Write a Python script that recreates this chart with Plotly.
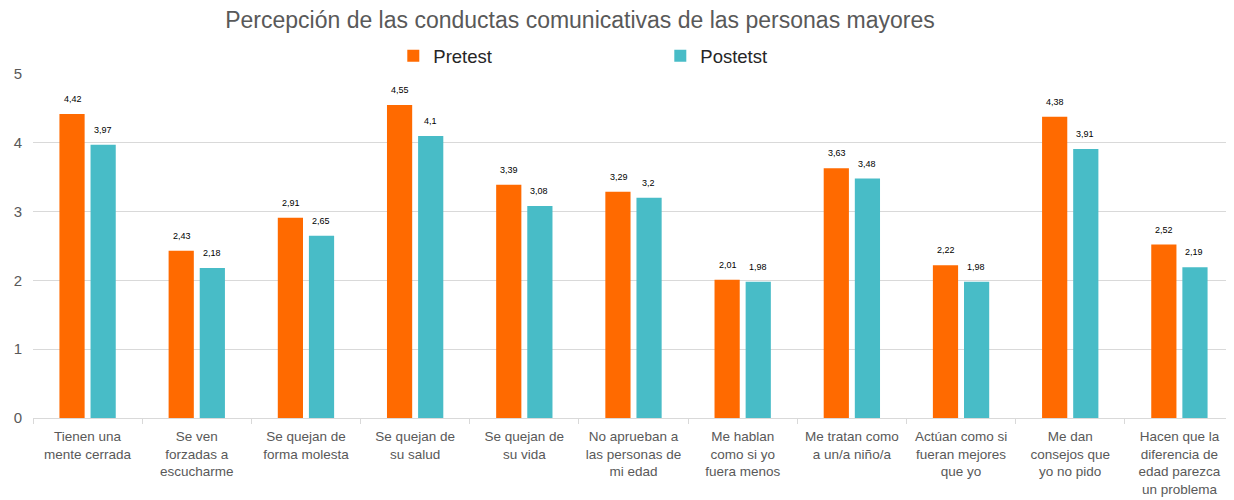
import plotly.graph_objects as go

categories = [
    "Tienen una<br>mente cerrada",
    "Se ven<br>forzadas a<br>escucharme",
    "Se quejan de<br>forma molesta",
    "Se quejan de<br>su salud",
    "Se quejan de<br>su vida",
    "No aprueban a<br>las personas de<br>mi edad",
    "Me hablan<br>como si yo<br>fuera menos",
    "Me tratan como<br>a un/a niño/a",
    "Actúan como si<br>fueran mejores<br>que yo",
    "Me dan<br>consejos que<br>yo no pido",
    "Hacen que la<br>diferencia de<br>edad parezca<br>un problema",
]
pretest = [4.42, 2.43, 2.91, 4.55, 3.39, 3.29, 2.01, 3.63, 2.22, 4.38, 2.52]
postest = [3.97, 2.18, 2.65, 4.1, 3.08, 3.2, 1.98, 3.48, 1.98, 3.91, 2.19]
series_names = ["Pretest", "Postetst"]
colors = ["#FF6A00", "#48BCC7"]

def fmt(v):
    return f"{v:g}".replace(".", ",")

fig = go.Figure()
for name, vals, col in zip(series_names, [pretest, postest], colors):
    fig.add_trace(go.Bar(name=name, x=categories, y=vals, marker_color=col,
                         marker_line_width=0))

annotations = []
for vals, shift in [(pretest, -15), (postest, 15)]:
    for c, v in zip(categories, vals):
        annotations.append(dict(x=c, y=v, text=fmt(v), showarrow=False,
                                xshift=shift, yshift=15, xref="x", yref="y",
                                font=dict(size=9, color="#000000",
                                          family="Liberation Sans"),
                                ))

fig.update_layout(
    width=1234, height=500,
    margin=dict(l=25, r=8, t=66, b=90),
    plot_bgcolor="white", paper_bgcolor="white",
    font=dict(family="Liberation Sans", color="#595959"),
    title=dict(text="Percepción de las conductas comunicativas de las personas mayores",
               x=0.4635, xanchor="center", y=0.976, yanchor="middle",
               font=dict(size=23, color="#595959")),
    barmode="group", bargap=0.43, bargroupgap=0.19,
    legend=dict(orientation="h", x=0.3, xanchor="left", y=1.052, yanchor="middle",
                font=dict(size=18.5, color="#262626"), entrywidth=222,
                itemwidth=30, traceorder="normal"),
    annotations=annotations,
    separators=",.",
)
fig.update_xaxes(showline=True, linecolor="#D9D9D9", linewidth=1,
                 ticks="outside", tickson="boundaries", tickcolor="#D9D9D9",
                 ticklen=5, tickfont=dict(size=13.5, color="#595959"),
                 ticklabelstandoff=6,
                 showgrid=False, automargin=False)
fig.update_yaxes(range=[0, 5], dtick=1, showgrid=True, gridcolor="#D9D9D9",
                 gridwidth=1, zeroline=False, showline=False, automargin=False,
                 tickfont=dict(size=15, color="#595959"), ticklabelstandoff=10)

fig.write_html("out.html")
